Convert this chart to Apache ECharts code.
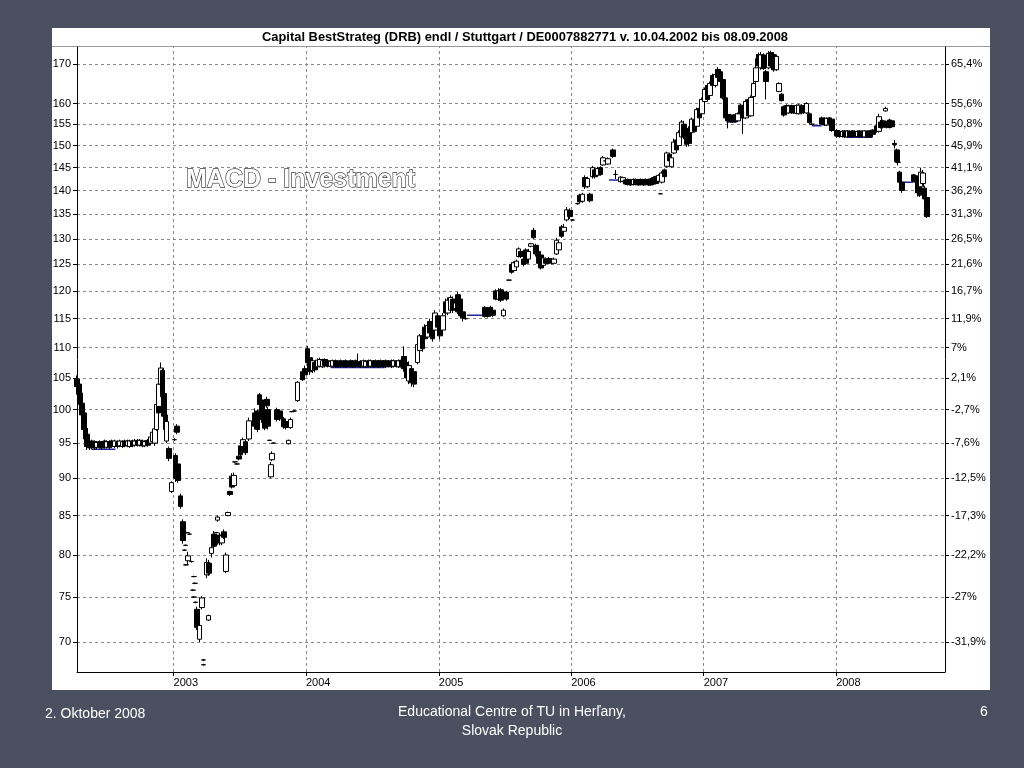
<!DOCTYPE html>
<html><head><meta charset="utf-8">
<script src="https://cdn.jsdelivr.net/npm/echarts@6/dist/echarts.min.js"></script>
<style>html,body{margin:0;padding:0;background:#4b5060;}#c{width:1024px;height:768px;}</style>
</head><body><div id="c"></div>
<script>
// ---- data: [date, open, close, low, high] ----
const y2002 = [
['2002-04-10',104.8,103.6,102.8,105.4],['2002-04-15',104.0,102.4,102.0,104.4],['2002-04-19',102.6,100.8,100.3,103.0],
['2002-04-24',101.0,99.2,98.8,101.4],['2002-04-29',99.5,97.0,96.5,100.0],['2002-05-03',97.2,95.6,95.0,97.6],
['2002-05-08',96.3,94.5,94.0,96.6],['2002-05-14',95.2,94.3,94.0,95.5],['2002-05-21',95.3,94.4,94.1,95.5],
['2002-05-28',95.2,94.3,94.0,95.4],['2002-06-04',94.4,95.1,94.1,95.3],['2002-06-11',95.2,94.4,94.2,95.4],
['2002-06-18',95.1,94.3,94.0,95.3],['2002-06-25',95.3,94.5,94.2,95.5],['2002-07-02',94.4,95.2,94.2,95.4],
['2002-07-09',95.2,94.4,94.1,95.4],['2002-07-16',95.3,94.5,94.3,95.5],['2002-07-23',94.5,95.3,94.3,95.5],
['2002-07-30',95.2,94.5,94.2,95.4],['2002-08-06',94.6,95.3,94.4,95.5],['2002-08-13',94.5,95.2,94.3,95.4],
['2002-08-20',95.3,94.6,94.4,95.5],['2002-08-27',94.6,95.3,94.4,95.5],['2002-09-03',94.5,95.3,94.3,95.5],
['2002-09-10',95.3,94.6,94.4,95.5],['2002-09-17',94.7,95.3,94.5,95.6],['2002-09-24',95.4,94.7,94.5,95.6],
['2002-10-01',94.7,95.4,94.5,95.6],['2002-10-08',95.3,94.6,94.4,95.5],['2002-10-15',94.6,95.2,94.4,95.4],
['2002-10-22',95.4,94.7,94.5,95.6],['2002-10-29',95.0,95.9,94.8,96.2],['2002-11-04',95.2,96.6,94.9,97.0],
['2002-11-11',95.0,97.1,94.6,97.4],['2002-11-15',97.0,100.8,96.8,101.5],['2002-11-20',101.5,99.5,98.8,102.0],
['2002-11-22',100.5,104.0,100.0,104.5],['2002-11-27',104.0,106.6,103.8,107.5],['2002-12-02',106.2,102.0,101.5,106.5],
['2002-12-06',102.5,99.0,98.5,103.0],['2002-12-10',99.2,97.0,96.5,99.6],['2002-12-13',95.3,98.2,95.0,98.5],
['2002-12-20',94.2,92.8,92.4,94.5],['2002-12-27',88.2,89.4,88.0,89.6]
];
const y2003 = [
['2003-01-03',95.5,95.5,95.3,95.7],['2003-01-06',93.2,90.0,89.5,93.5],['2003-01-10',97.5,96.6,96.3,97.8],
['2003-01-14',92.0,89.7,89.4,92.3],['2003-01-20',87.6,86.2,85.9,87.9],['2003-01-27',84.2,81.8,81.4,84.5],
['2003-01-31',80.6,80.6,80.5,80.7],['2003-02-03',81.2,81.2,81.1,81.3],['2003-02-05',78.8,78.8,78.7,78.9],
['2003-02-07',82.8,82.8,82.7,82.9],['2003-02-10',79.3,79.9,78.8,80.4],['2003-02-14',82.6,82.6,82.5,82.7],
['2003-02-19',79.2,79.2,79.1,79.3],['2003-02-24',75.8,75.8,75.7,75.9],['2003-02-26',77.4,77.4,77.3,77.5],
['2003-02-27',75.0,75.0,74.9,75.1],['2003-03-01',76.6,76.6,76.5,76.7],['2003-03-03',74.4,74.4,74.3,74.5],
['2003-03-07',73.6,71.6,71.3,73.9],['2003-03-13',70.3,71.8,70.0,72.0],['2003-03-21',73.8,74.9,73.6,75.1],
['2003-03-24',68.1,68.1,68.0,68.2],['2003-03-25',67.6,67.6,67.5,67.7],['2003-04-03',77.6,79.1,77.2,79.6],
['2003-04-07',72.4,72.9,72.3,73.0],['2003-04-09',79.0,77.8,77.5,79.4],['2003-04-16',80.2,80.9,79.7,81.6],
['2003-04-22',82.6,81.1,80.8,83.0],['2003-04-25',82.3,81.3,81.0,82.7],['2003-04-29',82.8,82.8,82.7,82.9],
['2003-05-02',84.4,84.8,84.2,85.0],['2003-05-08',82.5,81.5,81.2,82.8],['2003-05-15',81.5,82.4,81.2,82.8],
['2003-05-20',82.9,82.2,82.0,83.2],['2003-05-26',78.0,80.0,77.8,80.3],['2003-05-31',85.0,85.4,84.9,85.5],
['2003-06-06',88.2,87.8,87.6,88.3],['2003-06-11',90.3,88.8,88.6,90.7],['2003-06-16',89.0,90.4,88.8,90.8],
['2003-06-20',92.3,92.3,92.2,92.4],['2003-06-25',92.0,92.0,91.9,92.1],['2003-06-30',93.1,92.7,92.5,93.3],
['2003-07-05',94.6,93.3,93.0,95.0],['2003-07-11',94.5,95.5,94.0,95.8],['2003-07-18',95.2,93.6,93.3,95.5],
['2003-07-28',95.6,98.3,95.3,98.8],['2003-08-13',99.5,97.5,97.0,100.2],['2003-08-20',99.8,97.0,96.6,100.0],
['2003-08-26',102.3,100.8,100.5,102.6],['2003-09-02',101.5,98.5,98.0,102.0],['2003-09-09',99.5,97.2,96.9,99.8],
['2003-09-15',101.6,100.6,100.3,102.0],['2003-09-19',100.0,97.5,97.0,100.4],['2003-09-23',95.4,95.4,95.3,95.5],
['2003-09-26',90.2,91.9,90.0,92.3],['2003-09-30',92.6,93.5,92.4,93.8],['2003-10-03',95.0,95.0,94.9,95.1],
['2003-10-13',100.0,98.5,98.2,100.3],['2003-10-21',99.8,98.6,98.3,100.0],['2003-10-31',98.6,97.4,97.1,98.9],
['2003-11-07',98.2,97.3,97.0,98.5],['2003-11-14',94.9,95.4,94.8,95.5],['2003-11-19',97.3,98.5,97.1,98.8],
['2003-11-24',99.7,99.7,99.6,99.8],['2003-12-01',99.8,99.8,99.7,99.9],['2003-12-09',101.4,104.3,101.2,104.5],
['2003-12-23',106.0,104.7,104.5,106.3],['2003-12-29',106.5,105.5,105.2,107.0]
];
const y2004 = [
['2004-01-05',109.8,107.5,107.0,110.3],['2004-01-12',108.3,106.0,105.5,108.8],['2004-01-19',106.2,107.8,105.8,108.2],
['2004-01-26',107.5,106.3,105.9,107.8],['2004-02-02',106.8,107.9,106.6,108.2],['2004-02-09',106.9,108.0,106.7,108.3],
['2004-02-16',106.8,107.8,106.6,108.1],['2004-02-23',108.0,107.0,106.7,108.2],['2004-03-01',107.8,106.9,106.7,108.0],
['2004-03-08',106.9,107.7,106.7,107.9],['2004-03-15',106.9,107.8,106.7,108.0],['2004-03-22',107.8,106.9,106.7,108.0],
['2004-03-29',107.7,106.8,106.6,107.9],['2004-04-05',107.8,106.9,106.7,108.0],['2004-04-13',107.7,106.9,106.7,107.9],
['2004-04-19',107.8,106.8,106.6,108.0],['2004-04-26',107.6,106.9,106.7,107.8],['2004-05-03',107.8,106.9,106.7,108.0],
['2004-05-10',107.7,106.8,106.6,107.9],['2004-05-17',107.8,106.9,106.7,108.0],['2004-05-24',107.2,107.2,106.8,109.0],
['2004-05-31',107.7,106.8,106.6,107.9],['2004-06-07',106.9,107.8,106.7,108.0],['2004-06-14',106.8,107.7,106.6,107.9],
['2004-06-21',107.8,106.9,106.7,108.0],['2004-06-28',106.9,107.8,106.7,108.0],['2004-07-05',107.7,106.8,106.6,107.9],
['2004-07-12',107.8,106.9,106.7,108.0],['2004-07-19',107.7,106.8,106.6,107.9],['2004-07-26',107.8,106.9,106.7,108.0],
['2004-08-02',107.7,106.9,106.7,107.9],['2004-08-09',107.8,106.8,106.6,108.0],['2004-08-16',107.7,106.9,106.7,107.9],
['2004-08-23',107.8,106.8,106.6,108.0],['2004-08-30',106.9,107.8,106.7,108.0],['2004-09-06',107.7,106.9,106.7,107.9],
['2004-09-13',106.8,107.8,106.6,108.0],['2004-09-20',107.9,106.8,106.5,108.3],['2004-09-27',108.5,106.5,106.0,110.2],
['2004-10-04',107.5,105.0,104.5,108.0],['2004-10-11',104.5,107.0,104.0,107.7],['2004-10-18',106.5,104.2,103.6,107.0],
['2004-10-25',106.0,104.0,103.5,106.5],['2004-11-03',107.5,110.5,107.2,111.0],['2004-11-10',109.5,112.0,109.0,112.3],
['2004-11-17',112.0,109.8,109.3,112.5],['2004-11-24',113.5,111.5,111.2,114.0],['2004-12-01',111.8,113.8,111.5,114.3],
['2004-12-08',114.5,112.5,112.0,115.0],['2004-12-15',113.2,111.5,111.0,113.6],['2004-12-22',113.0,116.0,112.5,116.5],
['2004-12-29',115.5,113.5,113.0,116.0]
];
const y2005 = [
['2005-01-05',114.5,112.0,111.4,115.0],['2005-01-12',113.0,115.5,112.5,116.0],['2005-01-19',118.0,116.0,115.5,118.6],
['2005-01-26',116.0,118.3,115.6,118.8],['2005-02-02',116.5,118.8,116.2,119.2],['2005-02-09',118.5,116.5,116.0,119.0],
['2005-02-16',116.8,117.8,116.5,118.2],['2005-02-23',119.3,116.2,115.8,119.8],['2005-03-02',118.5,115.5,115.0,119.0],
['2005-03-09',116.2,115.2,114.5,116.5],['2005-03-16',115.0,115.0,114.8,115.2],['2005-05-09',117.0,115.4,115.2,117.2],
['2005-05-16',116.8,115.4,115.2,117.0],['2005-05-23',117.0,115.8,115.5,117.3],['2005-05-30',116.5,115.6,115.3,116.8],
['2005-06-08',120.0,118.5,118.3,120.3],['2005-06-15',118.5,120.0,118.2,120.5],['2005-06-22',120.2,118.3,118.0,120.5],
['2005-06-29',115.5,116.5,115.3,116.8],['2005-07-06',119.8,118.5,118.2,120.0],['2005-07-13',122.0,122.0,121.9,122.1],
['2005-07-20',125.0,123.5,123.2,125.4],['2005-07-27',123.8,125.3,123.5,125.6],['2005-08-03',124.5,125.6,124.3,125.9],
['2005-08-08',126.5,128.0,126.3,128.3],['2005-08-15',127.5,126.5,126.2,127.8],['2005-08-22',126.0,125.0,124.6,126.3],
['2005-08-29',127.8,125.2,124.9,128.1],['2005-09-05',126.0,127.5,125.5,128.0],['2005-09-12',128.5,129.0,128.3,129.2],
['2005-09-19',131.7,130.2,130.0,132.2],['2005-09-26',128.7,127.0,126.5,129.0],['2005-10-03',127.5,125.2,124.8,128.0],
['2005-10-10',126.8,124.3,124.0,127.2],['2005-10-17',124.8,126.2,124.5,126.5],['2005-10-24',126.0,125.2,125.0,126.3],
['2005-10-31',126.1,125.2,125.0,126.4],['2005-11-07',126.0,125.3,125.0,126.2],['2005-11-14',125.2,126.0,125.0,126.3],
['2005-11-21',127.0,129.7,126.8,130.2],['2005-11-28',127.8,129.2,127.5,129.5],['2005-12-05',132.4,130.5,130.2,132.8],
['2005-12-12',131.5,132.3,131.0,133.0],['2005-12-19',133.8,135.9,133.5,136.5],['2005-12-28',135.8,134.5,134.0,136.2]
];
const y2006 = [
['2006-01-04',133.8,133.8,133.6,134.0],['2006-01-18',137.2,137.2,137.0,137.4],['2006-01-25',139.0,137.6,137.3,139.3],
['2006-02-01',137.7,139.2,137.4,139.5],['2006-02-08',142.8,140.8,140.3,143.3],['2006-02-15',140.8,142.6,140.5,143.0],
['2006-02-22',139.2,137.8,137.5,139.5],['2006-03-01',143.0,145.0,142.6,145.4],['2006-03-08',144.5,143.0,142.6,145.0],
['2006-03-15',143.3,144.8,143.0,145.2],['2006-03-22',145.0,143.5,143.2,145.3],['2006-03-29',145.6,147.2,145.4,147.6],
['2006-04-05',146.5,146.5,146.3,146.7],['2006-04-12',145.8,147.0,145.6,147.3],['2006-04-26',149.0,147.5,147.2,149.3],
['2006-05-03',143.5,143.5,142.5,144.5],['2006-05-17',141.9,142.9,141.7,143.1],['2006-05-24',142.0,142.8,141.8,143.0],
['2006-05-31',142.3,141.4,141.2,142.5],['2006-06-07',142.4,141.3,141.1,142.6],['2006-06-14',142.3,141.2,141.0,142.5],
['2006-06-21',141.3,142.4,141.1,142.6],['2006-06-28',142.4,141.3,141.1,142.6],['2006-07-05',142.3,141.2,141.0,142.5],
['2006-07-12',142.4,141.3,141.1,142.6],['2006-07-19',142.3,141.2,141.0,142.5],['2006-07-26',142.4,141.3,141.1,142.6],
['2006-08-02',142.3,141.2,141.0,142.5],['2006-08-09',142.5,141.2,141.0,142.7],['2006-08-16',142.8,141.4,141.2,143.0],
['2006-08-23',143.0,141.5,141.3,143.2],['2006-08-30',142.0,143.3,141.8,143.5],['2006-09-04',139.3,139.3,139.2,139.4],
['2006-09-08',141.8,143.8,141.5,144.2],['2006-09-15',144.5,143.0,142.8,144.8],['2006-09-22',145.3,148.3,145.0,148.6],
['2006-09-29',148.0,146.5,146.2,148.3],['2006-10-04',145.2,147.2,145.0,147.5],['2006-10-11',148.3,150.8,148.0,151.6],
['2006-10-18',151.3,149.0,148.5,151.8],['2006-10-25',150.0,153.0,149.5,153.5],['2006-11-01',152.0,155.5,151.5,156.0],
['2006-11-08',155.0,152.0,151.5,155.8],['2006-11-15',153.8,150.3,149.7,154.2],['2006-11-22',154.0,150.5,149.8,154.5],
['2006-11-29',153.0,156.2,152.7,156.6],['2006-12-06',156.0,153.3,153.0,156.4],['2006-12-13',154.5,158.5,154.0,159.0],
['2006-12-20',158.8,156.5,156.0,159.2],['2006-12-28',157.5,161.0,157.0,161.5]
];
const y2007 = [
['2007-01-05',160.5,163.5,160.0,164.0],['2007-01-12',164.5,161.0,160.7,165.0],['2007-01-19',162.0,165.0,161.5,165.5],
['2007-01-26',167.0,164.5,164.0,167.5],['2007-02-02',164.5,167.3,164.0,167.8],['2007-02-09',168.6,166.5,166.0,169.2],
['2007-02-16',168.0,165.5,165.0,168.5],['2007-02-23',166.0,161.4,161.0,166.5],['2007-03-02',161.4,156.5,156.0,162.0],
['2007-03-09',157.3,155.8,154.0,157.6],['2007-03-16',157.2,155.7,155.4,157.5],['2007-03-23',157.0,155.6,155.3,157.3],
['2007-03-30',157.3,155.7,155.4,157.6],['2007-04-06',155.8,157.5,155.5,157.8],['2007-04-13',159.6,157.5,156.8,160.0],
['2007-04-20',158.5,156.5,152.7,159.0],['2007-04-27',156.5,160.5,156.2,161.0],['2007-05-04',161.0,157.0,156.5,161.4],
['2007-05-11',157.0,161.5,156.8,162.0],['2007-05-18',161.7,165.0,161.4,165.5],['2007-05-25',165.5,169.0,165.0,171.5],
['2007-06-01',172.5,169.5,168.6,173.0],['2007-06-08',169.0,172.4,168.5,173.2],['2007-06-15',172.4,168.8,168.5,172.8],
['2007-06-22',168.0,165.5,161.0,168.5],['2007-06-29',169.0,172.8,168.6,173.4],['2007-07-06',173.0,169.5,169.0,173.5],
['2007-07-13',172.5,168.5,168.0,173.0],['2007-07-20',168.5,172.0,168.2,172.5],['2007-07-27',163.0,165.0,162.8,165.3],
['2007-08-03',162.3,160.7,160.5,162.6],['2007-08-10',159.2,157.2,156.8,159.5],['2007-08-17',159.5,157.8,157.5,159.8],
['2007-08-24',157.7,159.4,157.5,159.7],['2007-08-31',159.5,157.8,157.5,159.7],['2007-09-07',159.4,157.7,157.5,159.6],
['2007-09-14',157.6,159.5,157.4,159.8],['2007-09-21',157.5,159.6,157.3,159.9],['2007-09-28',159.5,157.7,157.4,159.8],
['2007-10-05',159.3,157.8,157.5,159.6],['2007-10-12',157.7,160.0,157.5,160.3],['2007-10-19',157.5,155.4,155.0,157.8],
['2007-10-26',155.0,155.0,154.8,155.2],['2007-11-23',156.5,155.0,154.8,156.8],['2007-11-30',156.4,154.8,154.6,156.6],
['2007-12-07',154.8,156.4,154.6,156.6],['2007-12-14',156.5,155.0,154.8,156.7],['2007-12-21',156.2,153.5,153.2,156.5]
];
const y2008 = [
['2008-01-04',153.5,152.2,151.8,153.9],['2008-01-11',153.3,152.1,151.8,153.6],['2008-01-18',152.1,153.3,151.9,153.6],
['2008-01-25',153.4,152.0,151.8,153.6],['2008-02-01',152.0,153.4,151.8,153.6],['2008-02-08',153.3,152.1,151.9,153.5],
['2008-02-15',153.4,152.0,151.8,153.6],['2008-02-22',153.3,152.1,151.9,153.5],['2008-02-29',152.1,153.3,151.9,153.5],
['2008-03-07',153.4,152.0,151.8,153.6],['2008-03-14',153.3,152.1,151.9,153.5],['2008-03-21',152.0,153.4,151.8,153.6],
['2008-03-28',153.3,152.1,151.9,153.5],['2008-04-04',153.4,152.0,151.8,153.6],['2008-04-11',153.6,152.6,152.3,153.8],
['2008-04-21',154.6,153.3,153.0,155.0],['2008-04-28',153.3,156.8,153.0,157.5],['2008-05-02',155.5,154.2,154.0,156.0],
['2008-05-09',155.8,154.3,154.0,156.1],['2008-05-16',158.2,158.8,158.0,159.2],['2008-05-20',155.5,154.3,154.0,155.8],
['2008-05-27',156.0,154.2,154.0,156.3],['2008-06-03',155.8,154.4,154.2,156.0],['2008-06-10',150.5,150.2,149.3,151.3],
['2008-06-17',149.0,146.3,146.0,149.3],['2008-06-20',146.2,146.2,145.5,146.4],['2008-06-24',144.0,141.8,141.5,144.3],
['2008-06-30',141.8,140.0,139.5,142.0],['2008-08-01',143.4,142.0,141.8,143.6],['2008-08-06',143.2,141.9,141.7,143.4],
['2008-08-12',142.7,139.5,138.7,143.0],['2008-08-18',141.5,139.0,138.6,141.8],['2008-08-22',140.8,144.0,140.5,145.0],
['2008-08-27',141.5,143.8,141.0,144.5],['2008-09-01',140.5,138.2,137.8,141.0],['2008-09-08',138.5,134.5,134.2,138.8]
];
// flat (unchanged-price) stretches drawn in blue: [from, to, price]
const flatStretches = [
['2002-05-20','2002-07-25',94.1],['2004-03-10','2004-08-05',106.7],['2005-03-20','2005-05-06',115.6],
['2006-04-15','2006-05-15',142.3],['2007-03-05','2007-04-02',155.5],['2007-10-26','2007-11-22',154.6],
['2008-02-01','2008-04-10',151.9],['2008-07-01','2008-07-31',141.8]
];
// axis ticks / labels
const priceTicks = [70,75,80,85,90,95,100,105,110,115,120,125,130,135,140,145,150,155,160,170];
const pctLabels = ['-31,9%','-27%','-22,2%','-17,3%','-12,5%','-7,6%','-2,7%','2,1%','7%','11,9%','16,7%','21,6%','26,5%','31,3%','36,2%','41,1%','45,9%','50,8%','55,6%','65,4%'];
const yearTicks = ['2003-01-01','2004-01-01','2005-01-01','2006-01-01','2007-01-01','2008-01-01'];
const priceRange = [66.85, 174.5];
const dateRange = ['2002-04-10','2008-10-27'];
const titleText = 'Capital BestStrateg (DRB) endl / Stuttgart / DE0007882771 v. 10.04.2002 bis 08.09.2008';

// ---- build ----
const lg = v => Math.log10(v);
const ts = s => { const p = s.split('-').map(Number); return Date.UTC(p[0], p[1]-1, p[2]); };
const candles = [].concat(y2002, y2003, y2004, y2005, y2006, y2007, y2008)
  .map(r => [ts(r[0]), lg(r[1]), lg(r[2]), lg(r[3]), lg(r[4])]);
const tickLogs = priceTicks.map(lg);
const yearTs = yearTicks.map(ts);
const findTick = v => tickLogs.findIndex(t => Math.abs(t - v) < 1e-7);
const findYear = v => yearTs.findIndex(t => Math.abs(t - v) < 1000);

const flatSeries = flatStretches.map(f => ({
  type: 'line', silent: true, symbol: 'none', z: 1, animation: false,
  lineStyle: { color: '#22229a', width: 1.5 },
  data: [[ts(f[0]), lg(f[2])], [ts(f[1]), lg(f[2])]]
}));

// title squeezed horizontally to the narrow face of the original
const titleFont = 'bold 13px "Liberation Sans", Arial, sans-serif';
const mctx = document.createElement('canvas').getContext('2d');
mctx.font = titleFont;
const titleScale = Math.min(1, 526 / mctx.measureText(titleText).width);

const gridLineStyle = { color: '#8a8a8a', type: [3, 3], width: 1 };
const chart = echarts.init(document.getElementById('c'));
chart.setOption({
  animation: false,
  backgroundColor: '#4b5060',
  textStyle: { fontFamily: 'Arial, "Liberation Sans", sans-serif' },
  graphic: [
    { type: 'rect', silent: true, z: -10, shape: { x: 52, y: 28, width: 938, height: 662 }, style: { fill: '#ffffff' } },
    { type: 'line', silent: true, shape: { x1: 52, y1: 46.5, x2: 990, y2: 46.5 }, style: { stroke: '#999', lineWidth: 1 } },
    { type: 'text', silent: true, x: 525, y: 37, scaleX: titleScale, style: { text: titleText, font: titleFont, fill: '#000', align: 'center', verticalAlign: 'middle', textAlign: 'center', textVerticalAlign: 'middle' } },
    { type: 'text', silent: true, x: 186, y: 168, z: 100, style: { text: 'MACD - Investment', font: 'bold 25px Arial, "Liberation Sans"', fill: '#ffffff', stroke: '#3c3c3c', lineWidth: 1.3, shadowColor: 'rgba(0,0,0,0.4)', shadowOffsetX: 1, shadowOffsetY: 1, shadowBlur: 1 } },
    { type: 'text', silent: true, x: 45, y: 714, style: { text: '2. Oktober 2008', font: '14px Arial, "Liberation Sans"', fill: '#ffffff', verticalAlign: 'middle', textVerticalAlign: 'middle' } },
    { type: 'text', silent: true, x: 512, y: 712, style: { text: 'Educational Centre of TU in Herľany,', font: '14px Arial, "Liberation Sans"', fill: '#ffffff', align: 'center', verticalAlign: 'middle', textAlign: 'center', textVerticalAlign: 'middle' } },
    { type: 'text', silent: true, x: 512, y: 731, style: { text: 'Slovak Republic', font: '14px Arial, "Liberation Sans"', fill: '#ffffff', align: 'center', verticalAlign: 'middle', textAlign: 'center', textVerticalAlign: 'middle' } },
    { type: 'text', silent: true, x: 980, y: 712, style: { text: '6', font: '14px Arial, "Liberation Sans"', fill: '#ffffff', verticalAlign: 'middle', textVerticalAlign: 'middle' } }
  ],
  grid: { left: 77, top: 47, right: 79, bottom: 96, show: false },
  xAxis: {
    type: 'value', min: ts(dateRange[0]), max: ts(dateRange[1]), scale: true,
    axisLine: { show: true, onZero: false, lineStyle: { color: '#000', width: 1 } },
    axisTick: { show: true, customValues: yearTs, length: 4, lineStyle: { color: '#000' } },
    axisLabel: { customValues: yearTs, formatter: v => { const i = findYear(v); return i >= 0 ? yearTicks[i].slice(0, 4) : ''; }, color: '#000', fontSize: 11, align: 'left', margin: 5 },
    splitLine: { show: false }
  },
  yAxis: [
    { type: 'value', position: 'left', min: lg(priceRange[0]), max: lg(priceRange[1]), scale: true,
      axisLine: { show: true, onZero: false, lineStyle: { color: '#000' } },
      axisTick: { show: true, customValues: tickLogs, length: 4, lineStyle: { color: '#000' } },
      axisLabel: { customValues: tickLogs, formatter: v => { const i = findTick(v); return i >= 0 ? String(priceTicks[i]) : ''; }, color: '#000', fontSize: 11, margin: 6 },
      splitLine: { show: false } },
    { type: 'value', position: 'right', min: lg(priceRange[0]), max: lg(priceRange[1]), scale: true,
      axisLine: { show: true, onZero: false, lineStyle: { color: '#000' } },
      axisTick: { show: true, customValues: tickLogs, length: 4, lineStyle: { color: '#000' } },
      axisLabel: { customValues: tickLogs, formatter: v => { const i = findTick(v); return i >= 0 ? pctLabels[i] : ''; }, color: '#000', fontSize: 11, margin: 6 },
      splitLine: { show: false } }
  ],
  series: [
    { type: 'candlestick', data: candles, barWidth: 5, z: 3,
      itemStyle: { color: '#ffffff', color0: '#000000', borderColor: '#000000', borderColor0: '#000000', borderWidth: 1 },
      markLine: { silent: true, precision: 12, symbol: ['none', 'none'], label: { show: false }, z: 0, animation: false, lineStyle: gridLineStyle,
        data: tickLogs.map(v => ({ yAxis: v })).concat(yearTs.map(t => ({ xAxis: t }))) } }
  ].concat(flatSeries)
});
</script></body></html>
